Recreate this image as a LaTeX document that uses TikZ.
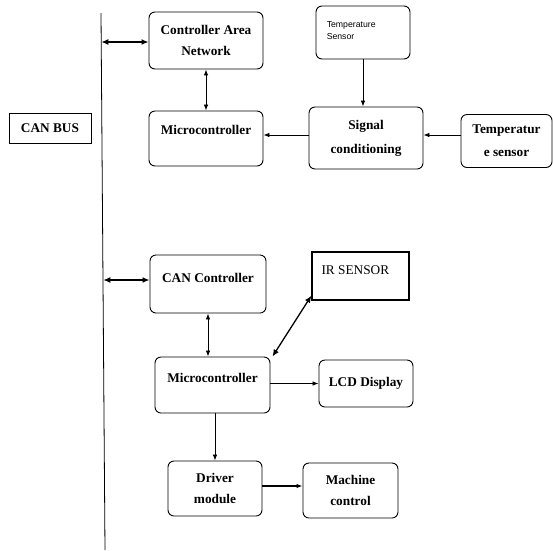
\documentclass[tikz,border=0pt]{standalone}
\usepackage{fontspec}
\setmainfont{Liberation Serif}
\newfontfamily\smallsans{Liberation Sans}
\usepackage{tikz}
\usetikzlibrary{arrows.meta}

\begin{document}
\begin{tikzpicture}[x=1pt, y=-1pt,
    rbox/.style={draw, line width=0.9pt, rounded corners=6pt, align=center,
        font=\fontsize{13.3}{21.5}\selectfont\bfseries},
    sbox/.style={draw, line width=1.3pt, align=center},
    link/.style={line width=0.8pt, -{Latex[length=6pt, width=4.5pt]}},
    dlink/.style={line width=0.8pt, {Latex[length=6pt, width=4.5pt]}-{Latex[length=6pt, width=4.5pt]}},
    buslink/.style={line width=1.6pt, {Latex[length=7pt, width=6pt]}-{Latex[length=7pt, width=6pt]}}]
    \useasboundingbox (0,0) rectangle (553,550);

    % bus line
    \coordinate (bustop) at (101,13);
    \coordinate (busbot) at (105,550);
    \draw[line width=0.8pt] (bustop) -- (busbot);
    \coordinate (bus1) at (101.3,42);
    \coordinate (bus2) at (103.3,280);

    \node[sbox, minimum width=82, minimum height=30, line width=0.9pt,
        font=\fontsize{13.3}{15}\selectfont\bfseries] (canbus) at (50,128) {CAN BUS};

    % upper node
    \node[rbox, minimum width=114, minimum height=57] (can) at (206,40.5) {Controller Area\\Network};
    \node[rbox, minimum width=114, minimum height=55, text depth=17pt] (mc1) at (206,138.5) {Microcontroller};
    \node[rbox, minimum width=94, minimum height=53, font=\smallsans\fontsize{8.7}{12}\selectfont,
        label={[anchor=north west, align=left, inner sep=0pt, xshift=11pt, yshift=-16pt,
        font=\smallsans\fontsize{8.7}{12}\selectfont]north west:Temperature\\Sensor}] (tsens) at (363,32.5) {};
    \node[rbox, minimum width=114, minimum height=62, font=\fontsize{13.3}{24}\selectfont\bfseries] (sig) at (366,138) {Signal\\conditioning};
    \node[rbox, minimum width=91, minimum height=53, font=\fontsize{13.3}{23}\selectfont\bfseries] (temp) at (506.5,141) {Temperatur\\e sensor};

    \draw[buslink] (bus1) -- (bus1 -| can.west);
    \draw[dlink] (can.south) -- (mc1.north);
    \draw[link] (tsens.south) -- (tsens.south |- sig.north);
    \draw[link] (sig.west |- 0,135) -- (mc1.east |- 0,135);
    \draw[link] (temp.west |- 0,135) -- (sig.east |- 0,135);

    % lower node
    \node[rbox, minimum width=116, minimum height=58, text depth=12pt] (canc) at (208,284) {CAN Controller};
    \node[sbox, minimum width=97, minimum height=48,
        label={[anchor=north west, inner sep=0pt, xshift=10pt, yshift=-14pt,
        font=\fontsize{13.3}{15}\selectfont]north west:IR SENSOR}] (ir) at (360.5,276) {};
    \node[rbox, minimum width=115, minimum height=56, text depth=15pt] (mc2) at (212.5,385) {Microcontroller};
    \node[rbox, minimum width=94, minimum height=47] (lcd) at (366,383.5) {LCD Display};
    \node[rbox, minimum width=94, minimum height=55] (drv) at (215,488.5) {Driver\\module};
    \node[rbox, minimum width=95, minimum height=55] (mach) at (350.5,490.5) {Machine\\control};

    \draw[buslink] (bus2) -- (bus2 -| canc.west);
    \draw[dlink] (canc.south) -- (canc.south |- mc2.north);
    \draw[buslink, line width=1.3pt] ([xshift=2pt]mc2.north east) -- ([yshift=5pt]ir.south west);
    \draw[link] (mc2.east |- lcd.west) -- (lcd.west);
    \draw[link] (mc2.south -| drv.north) -- (drv.north);
    \draw[link, line width=1.3pt] (drv.east |- 0,486) -- (mach.west |- 0,486);
\end{tikzpicture}
\end{document}
